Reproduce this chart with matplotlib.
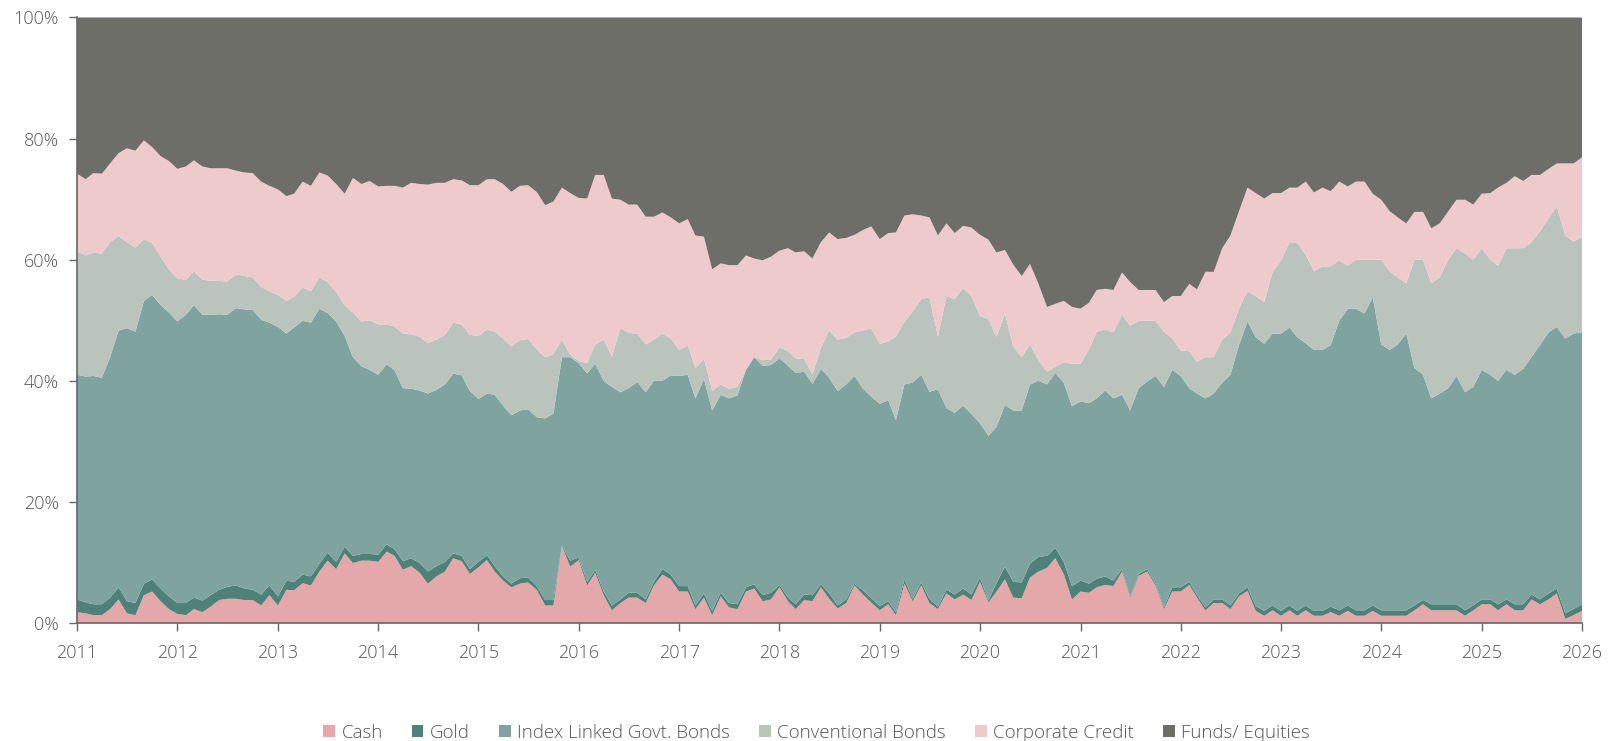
import matplotlib
matplotlib.use("Agg")
import matplotlib.pyplot as plt
import matplotlib.dates as mdates
from matplotlib.patches import Patch
import numpy as np
import pandas as pd

plt.rcParams['font.family'] = ['Open Sans', 'DejaVu Sans']

dates = pd.date_range('2011-01-01', periods=181, freq='MS')

cash = [1.8,1.6,1.3,1.3,2.3,3.9,1.6,1.3,4.6,5.2,3.6,2.3,
        1.5,1.3,2.3,1.8,2.7,3.8,4.0,4.0,3.8,3.8,2.9,4.6,
        2.9,5.5,5.4,6.6,6.2,8.5,10.3,8.9,11.5,9.9,10.3,10.3,
        10.1,11.8,11.1,8.8,9.4,8.3,6.5,7.7,8.5,10.7,10.2,8.1,
        9.2,10.4,8.5,7.0,5.9,6.5,6.7,5.5,2.9,2.9,12.7,9.3,
        10.4,6.2,8.3,4.6,2.1,3.3,4.2,4.2,3.3,6.2,8.0,7.2,
        5.2,5.2,2.3,4.2,1.3,4.4,2.6,2.3,5.2,5.7,3.6,3.9,
        5.9,3.6,2.3,3.8,3.6,5.9,4.0,2.4,3.3,6.2,4.7,3.4,
        2.1,3.1,1.3,6.5,3.6,6.2,3.3,2.3,4.9,3.9,4.7,3.8,
        6.8,3.4,5.2,7.2,4.2,4.1,7.5,8.5,9.1,10.7,8.1,3.9,
        5.2,5.0,5.9,6.3,6.1,8.5,4.2,7.8,8.5,6.2,2.3,5.2,
        5.2,6.3,4.2,2.1,3.3,3.3,2.3,4.4,5.3,2.0,1.2,2.1,
        1.2,2.1,1.2,2.1,1.2,1.2,1.8,1.2,2.0,1.2,1.2,2.0,
        1.2,1.2,1.2,1.2,2.1,3.1,2.1,2.1,2.1,2.1,1.2,2.1,
        3.1,3.1,2.1,3.1,2.1,2.1,3.9,3.1,3.9,4.9,0.7,1.3,
        2.0]

gold = [2.1,1.8,1.8,1.8,1.9,2.0,2.0,2.0,1.9,2.0,2.1,2.1,
        1.8,2.0,1.9,1.9,1.9,1.7,2.0,2.2,1.9,1.7,1.8,1.6,
        1.5,1.5,1.4,1.4,1.5,1.3,1.3,1.2,1.1,1.2,1.1,1.1,
        1.2,1.2,1.1,1.4,1.3,1.6,2.0,1.7,1.6,0.8,0.9,0.8,
        0.9,0.8,0.9,0.7,0.6,0.9,0.8,0.6,0.9,0.9,0.1,1.0,
        0.4,0.6,0.5,0.6,0.8,0.6,0.8,0.8,0.6,0.6,0.9,0.8,
        0.9,0.9,0.6,0.7,0.7,0.6,0.7,0.8,0.7,0.7,1.0,1.1,
        0.4,0.6,0.8,0.9,1.0,0.5,0.9,0.5,0.6,0.3,0.7,0.7,
        0.7,0.5,0.5,0.7,0.4,0.5,0.7,0.4,0.6,0.8,1.0,0.9,
        0.7,0.3,1.4,2.1,2.6,2.6,2.3,2.4,2.0,1.7,2.0,2.2,
        1.8,1.5,1.4,1.4,0.9,0.4,0.2,0.3,0.4,0.3,0.3,0.7,
        0.7,0.5,0.4,0.5,0.6,0.6,0.6,0.5,0.6,0.8,0.8,0.8,
        0.8,0.8,0.8,0.8,0.8,0.8,0.9,0.9,0.9,0.9,0.9,0.9,
        0.9,0.9,0.9,0.9,0.8,0.7,1.0,1.0,1.0,1.0,0.9,0.8,
        0.8,0.8,1.0,0.8,1.0,1.0,0.8,0.8,1.0,0.8,0.9,1.0,
        1.1]

index_linked = [37.1,37.3,37.7,37.4,39.7,42.4,45.1,44.8,46.7,47.0,46.8,46.9,
        46.5,47.6,48.3,47.2,46.3,45.5,44.9,45.8,46.1,46.2,45.4,43.4,
        44.5,40.8,42.0,41.9,41.9,42.1,39.6,39.7,34.8,32.8,31.0,30.4,
        29.7,29.7,29.6,28.6,28.0,28.5,29.4,29.1,29.3,29.7,29.8,29.4,
        26.9,26.7,28.3,28.2,27.8,27.7,27.8,27.9,30.0,30.8,31.1,33.6,
        32.1,34.4,34.0,34.8,36.1,34.2,33.8,34.8,34.2,33.2,31.1,32.9,
        34.7,34.9,34.2,35.4,33.1,32.7,33.8,34.5,35.9,37.5,37.9,37.6,
        37.4,38.3,38.2,36.8,34.9,35.6,35.6,35.4,35.5,34.3,33.3,33.3,
        33.4,33.2,31.7,32.2,35.7,34.3,34.2,35.9,30.0,30.0,30.2,29.8,
        25.5,27.2,25.8,26.7,28.3,28.4,29.6,29.1,28.3,28.9,29.6,29.7,
        29.6,29.8,29.8,30.7,30.1,28.8,30.7,30.7,31.0,34.3,36.4,35.9,
        34.9,32.0,33.3,34.5,34.0,35.8,38.1,41.0,43.9,44.4,44.1,44.9,
        45.8,45.9,45.2,43.3,43.1,43.1,43.2,47.8,49.0,49.8,49.0,50.9,
        43.9,43.0,43.9,45.7,39.2,37.2,34.0,34.8,35.7,37.7,36.0,36.1,
        37.9,37.1,36.9,37.9,37.9,38.9,39.2,42.0,43.1,43.2,45.4,45.5,
        44.9]

conventional = [20.4,20.0,20.4,20.5,19.0,15.6,14.2,13.9,10.2,8.6,8.0,7.1,
        7.1,5.8,5.6,5.8,5.6,5.5,5.5,5.6,5.5,5.4,5.4,5.2,
        5.3,5.4,5.1,5.5,5.2,5.2,5.1,4.9,5.0,7.4,7.4,8.2,
        8.3,6.6,7.2,9.0,9.0,8.9,8.3,8.3,8.2,8.4,8.4,9.3,
        10.4,10.6,10.4,11.1,11.4,11.6,11.6,11.2,10.1,9.8,2.9,0.4,
        0.4,1.7,3.2,6.8,5.0,10.6,9.1,8.0,7.9,6.8,7.8,6.1,
        4.3,4.9,5.0,3.4,3.2,1.7,1.6,1.4,0.1,0.0,0.9,0.9,
        1.8,2.4,2.4,2.1,1.6,3.5,7.8,8.5,7.7,7.2,9.6,11.3,
        9.9,9.7,13.8,10.4,11.7,12.5,15.6,8.7,18.5,18.8,19.4,19.5,
        17.7,19.3,14.8,15.1,10.6,8.8,6.6,3.4,2.1,1.0,3.4,7.0,
        6.2,8.9,11.0,10.1,10.9,13.2,14.0,11.1,10.0,9.1,9.1,5.2,
        4.2,6.1,5.2,6.8,6.0,7.1,7.0,6.0,5.0,6.8,6.9,10.1,
        12.1,14.1,15.6,14.6,13.0,13.8,13.0,10.0,7.1,8.1,8.9,6.2,
        14.0,12.9,11.1,8.3,17.9,19.0,19.0,19.2,21.2,21.1,22.9,21.0,
        20.1,19.0,19.0,20.1,20.9,19.9,19.0,18.8,18.8,19.9,17.0,15.2,
        15.8]

corporate = [12.8,12.6,13.1,13.2,13.0,13.7,15.5,16.0,16.3,15.8,16.6,17.9,
        18.1,18.7,18.3,18.7,18.6,18.6,18.7,17.1,17.1,17.2,17.4,17.4,
        17.4,17.3,17.0,17.5,17.4,17.3,17.6,17.8,18.5,22.2,22.7,23.0,
        22.8,22.9,23.2,24.1,25.0,25.2,26.2,25.9,25.1,23.7,23.8,24.7,
        24.9,24.8,25.2,25.5,25.5,25.5,25.4,26.0,25.1,25.2,25.1,26.7,
        26.9,27.2,28.0,27.2,26.1,21.2,21.2,21.3,21.1,20.3,20.0,20.0,
        20.9,20.8,21.9,20.1,20.1,20.0,20.4,20.1,18.8,16.3,16.5,17.0,
        16.0,17.0,17.5,17.8,19.1,17.4,16.2,16.6,16.5,16.1,16.6,16.8,
        17.3,17.9,17.2,17.5,16.1,13.8,13.2,16.7,12.0,10.9,10.3,11.3,
        13.4,13.1,14.0,10.5,13.5,13.4,13.3,12.6,10.7,10.4,10.1,9.4,
        9.1,7.7,6.9,6.7,7.0,7.0,7.2,5.1,5.1,5.1,4.9,7.0,
        9.0,11.1,12.0,14.1,14.1,15.1,16.0,16.1,17.1,17.0,17.1,13.1,
        11.1,9.0,9.1,12.1,13.0,13.0,12.4,13.0,13.1,12.9,12.9,10.9,
        9.9,10.0,9.9,9.9,7.9,7.9,9.1,8.9,8.0,8.0,8.9,9.1,
        9.0,11.0,12.9,10.8,11.9,11.1,11.1,9.3,8.2,7.1,11.9,12.9,
        13.1]

funds = [25.8,26.7,25.7,25.8,24.1,22.4,21.6,22.0,20.3,21.4,22.9,23.7,
        25.0,24.6,23.6,24.6,24.9,24.9,24.9,25.3,25.6,25.7,27.1,27.8,
        28.4,29.5,29.1,27.1,27.8,25.6,26.1,27.5,29.1,26.5,27.5,27.0,
        27.9,27.8,27.8,28.1,27.3,27.5,27.6,27.3,27.3,26.7,26.9,27.7,
        27.7,26.7,26.7,27.5,28.8,27.8,27.7,28.8,31.0,30.4,28.1,29.0,
        29.8,29.9,26.0,26.0,29.9,30.1,30.9,30.9,32.9,32.9,32.2,33.0,
        34.0,33.3,36.0,36.2,41.6,40.6,40.9,40.9,39.3,39.8,40.1,39.5,
        38.5,38.1,38.8,38.6,39.8,37.1,35.5,36.6,36.4,35.9,35.1,34.5,
        36.6,35.6,35.5,32.7,32.5,32.7,33.0,36.0,34.0,35.6,34.4,34.7,
        35.9,36.7,38.8,38.4,40.8,42.7,40.7,44.0,47.8,47.3,46.8,47.8,
        48.1,47.1,45.0,44.8,45.0,42.1,43.7,45.0,45.0,45.0,47.0,46.0,
        46.0,44.0,44.9,42.0,42.0,38.1,36.0,32.0,28.1,29.0,29.9,29.0,
        29.0,28.1,28.1,27.1,28.9,28.1,28.7,27.1,27.9,27.1,27.1,29.1,
        30.1,32.0,33.0,34.0,32.1,32.1,34.8,34.0,32.0,30.1,30.1,30.9,
        29.1,29.0,28.1,27.3,26.2,27.0,26.0,26.0,25.0,24.1,24.1,24.1,
        23.1]

labels = ['Cash', 'Gold', 'Index Linked Govt. Bonds', 'Conventional Bonds',
          'Corporate Credit', 'Funds/ Equities']
colors = ['#E4A7AA', '#4E8279', '#7FA39F', '#BAC4BC', '#EFCACD', '#6E6E69']

series = [cash, gold, index_linked, conventional, corporate, funds]
lens = [len(s) for s in series]
assert all(l == len(dates) for l in lens), lens
arr = np.array(series, dtype=float)
arr = arr / arr.sum(axis=0) * 100.0

fig = plt.figure(figsize=(16.14, 7.41), dpi=100)
ax = fig.add_axes([0.0478, 0.1592, 0.9324, 0.8172])
ax.stackplot(dates, arr, colors=colors, labels=labels, linewidth=0)

ax.set_xlim(pd.Timestamp('2011-01-01'), pd.Timestamp('2026-01-01'))
ax.set_ylim(0, 100)
ax.xaxis.set_major_locator(mdates.YearLocator(1))
ax.xaxis.set_major_formatter(mdates.DateFormatter('%Y'))
ax.set_yticks([0, 20, 40, 60, 80, 100])
ax.set_yticklabels(['0%', '20%', '40%', '60%', '80%', '100%'])

tc = '#555555'
for s in ['top', 'right']:
    ax.spines[s].set_visible(False)
for s in ['left', 'bottom']:
    ax.spines[s].set_color('#666666')
    ax.spines[s].set_linewidth(1.2)
ax.tick_params(axis='both', colors='#666666', labelcolor=tc, labelsize=13,
               length=6, width=1, direction='out')
ax.tick_params(axis='x', pad=9)
ax.tick_params(axis='y', pad=7)
for lab in ax.get_xticklabels() + ax.get_yticklabels():
    lab.set_fontweight('light')

handles = [Patch(facecolor=c, edgecolor='none') for c in colors]
leg = fig.legend(handles, labels, loc='center', bbox_to_anchor=(0.506, 0.011),
                 ncol=6, frameon=False, fontsize=13.5, handlelength=0.62,
                 handleheight=0.62, handletextpad=0.35, columnspacing=1.55)
for t in leg.get_texts():
    t.set_color('#555555')
    t.set_fontweight('light')

fig.savefig('out.png', dpi=100)
